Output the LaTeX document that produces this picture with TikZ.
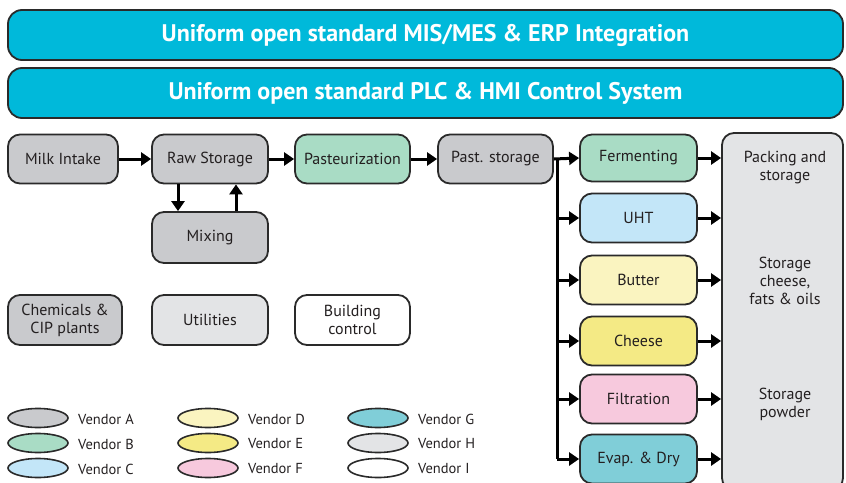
\documentclass[tikz,border=0pt]{standalone}
\usepackage{fontspec}
\setmainfont{PT Sans}
\usetikzlibrary{arrows.meta,shapes.geometric}

\definecolor{barblue}{HTML}{00B9DA}
\definecolor{venA}{HTML}{C9CACD}
\definecolor{venB}{HTML}{A9DCC5}
\definecolor{venC}{HTML}{C3E6F8}
\definecolor{venD}{HTML}{FAF4C0}
\definecolor{venE}{HTML}{F4EA85}
\definecolor{venF}{HTML}{F7C9DD}
\definecolor{venG}{HTML}{80CED8}
\definecolor{venH}{HTML}{E3E4E6}
\definecolor{venI}{HTML}{FFFFFF}
\definecolor{edge}{HTML}{2A2A2A}
\definecolor{ink}{HTML}{231F20}

\begin{document}
\begin{tikzpicture}[x=1pt, y=-1pt,
    bar/.style={draw=edge, line width=1.8pt, fill=barblue, rounded corners=14pt,
      minimum width=835pt, minimum height=50pt, text=white,
      font=\fontsize{24}{28}\selectfont\bfseries},
    unit/.style={draw=edge, line width=1.8pt, rounded corners=12pt, align=center,
      minimum width=115pt, minimum height=49pt, inner sep=1pt, text=ink,
      font=\fontsize{16}{18}\selectfont},
    vendor/.style={ellipse, draw=edge, line width=1.6pt, minimum width=60pt,
      minimum height=19pt, inner sep=0pt},
    vlabel/.style={anchor=west, text=ink, inner sep=0pt,
      font=\fontsize{14.5}{16}\selectfont},
    flow/.style={line width=3pt, draw=black, -{Triangle[length=10pt,width=13pt]}},
    bus/.style={line width=3pt, draw=black}]

  \useasboundingbox (0,0) rectangle (846,482);

  % Control layers
  \node[bar] (mis) at (425.5,35) {Uniform open standard MIS/MES \& ERP Integration};
  \node[bar] (plc) at (425.5,93) {Uniform open standard PLC \& HMI Control System};

  % Process units
  \node[unit, fill=venA, minimum width=110pt] (milk) at (63,159) {Milk Intake};
  \node[unit, fill=venA, minimum width=116pt] (raw) at (210,159) {Raw Storage};
  \node[unit, fill=venB] (pasteur) at (352.5,159) {Pasteurization};
  \node[unit, fill=venA] (paststore) at (495.5,159) {Past. storage};
  \node[unit, fill=venA, minimum width=116pt, minimum height=51pt] (mixing) at (210,237.5) {Mixing};

  \node[unit, fill=venB, minimum width=117pt, minimum height=47pt] (ferment) at (638.5,158) {Fermenting};
  \node[unit, fill=venC, minimum width=117pt] (uht) at (638.5,218) {UHT};
  \node[unit, fill=venD, minimum width=117pt] (butter) at (638.5,280) {Butter};
  \node[unit, fill=venE, minimum width=117pt] (cheese) at (638.5,341) {Cheese};
  \node[unit, fill=venF, minimum width=117pt] (filtration) at (638.5,399) {Filtration};
  \node[unit, fill=venG, minimum width=117pt] (evap) at (638.5,459) {Evap. \& Dry};

  \node[unit, fill=venH, minimum width=121pt, minimum height=357pt] (storage) at (782.5,311.5) {};
  \node[text=ink, align=center, font=\fontsize{16}{18}\selectfont] (packlbl) at (785,168) {Packing and\\storage};
  \node[text=ink, align=center, font=\fontsize{16}{18}\selectfont] (cheeselbl) at (785,281) {Storage\\cheese,\\fats \& oils};
  \node[text=ink, align=center, font=\fontsize{16}{18}\selectfont] (powderlbl) at (785,404) {Storage\\powder};

  % Utilities
  \node[unit, fill=venA, minimum width=114pt, minimum height=50pt] (chem) at (65,320) {Chemicals \&\\CIP plants};
  \node[unit, fill=venH, minimum width=116pt, minimum height=50pt] (util) at (210,320) {Utilities};
  \node[unit, fill=venI, minimum height=50pt] (building) at (352.5,320) {Building\\control};

  % Main flow
  \draw[flow] (milk) -- (raw);
  \draw[flow] (raw) -- (pasteur);
  \draw[flow] (pasteur) -- (paststore);
  \draw[flow] ([xshift=-32pt]raw.south) -- ([xshift=-32pt]raw.south |- mixing.north);
  \draw[flow] ([xshift=26pt]mixing.north) -- ([xshift=26pt]mixing.north |- raw.south);

  % Branches
  \coordinate (bustop) at (557,159);
  \coordinate (busend) at (557,459);
  \draw[bus] (bustop) -- (busend);
  \draw[flow] (paststore.east) -- (ferment.west);
  \draw[flow] (bustop) |- (uht.west);
  \draw[flow] (bustop) |- (butter.west);
  \draw[flow] (bustop) |- (cheese.west);
  \draw[flow] (bustop) |- (filtration.west);
  \draw[flow] (busend) -- (evap.west);

  \draw[flow] (ferment.east) -- (ferment.east -| storage.west);
  \draw[flow] (uht.east) -- (uht.east -| storage.west);
  \draw[flow] (butter.east) -- (butter.east -| storage.west);
  \draw[flow] (cheese.east) -- (cheese.east -| storage.west);
  \draw[flow] (filtration.east) -- (filtration.east -| storage.west);
  \draw[flow] (evap.east) -- (evap.east -| storage.west);

  % Legend
  \node[vendor, fill=venA] (legA) at (38,418) {};
  \node[vendor, fill=venB] (legB) at (38,443) {};
  \node[vendor, fill=venC] (legC) at (38,468) {};
  \node[vendor, fill=venD] (legD) at (208,418) {};
  \node[vendor, fill=venE] (legE) at (208,443) {};
  \node[vendor, fill=venF] (legF) at (208,468) {};
  \node[vendor, fill=venG] (legG) at (378,418) {};
  \node[vendor, fill=venH] (legH) at (378,443) {};
  \node[vendor, fill=venI] (legI) at (378,468) {};
  \node[vlabel] (txtA) at (78,419) {Vendor A};
  \node[vlabel] (txtB) at (78,444) {Vendor B};
  \node[vlabel] (txtC) at (78,469) {Vendor C};
  \node[vlabel] (txtD) at (248,419) {Vendor D};
  \node[vlabel] (txtE) at (248,444) {Vendor E};
  \node[vlabel] (txtF) at (248,469) {Vendor F};
  \node[vlabel] (txtG) at (418,419) {Vendor G};
  \node[vlabel] (txtH) at (418,444) {Vendor H};
  \node[vlabel] (txtI) at (418,469) {Vendor I};
\end{tikzpicture}
\end{document}
